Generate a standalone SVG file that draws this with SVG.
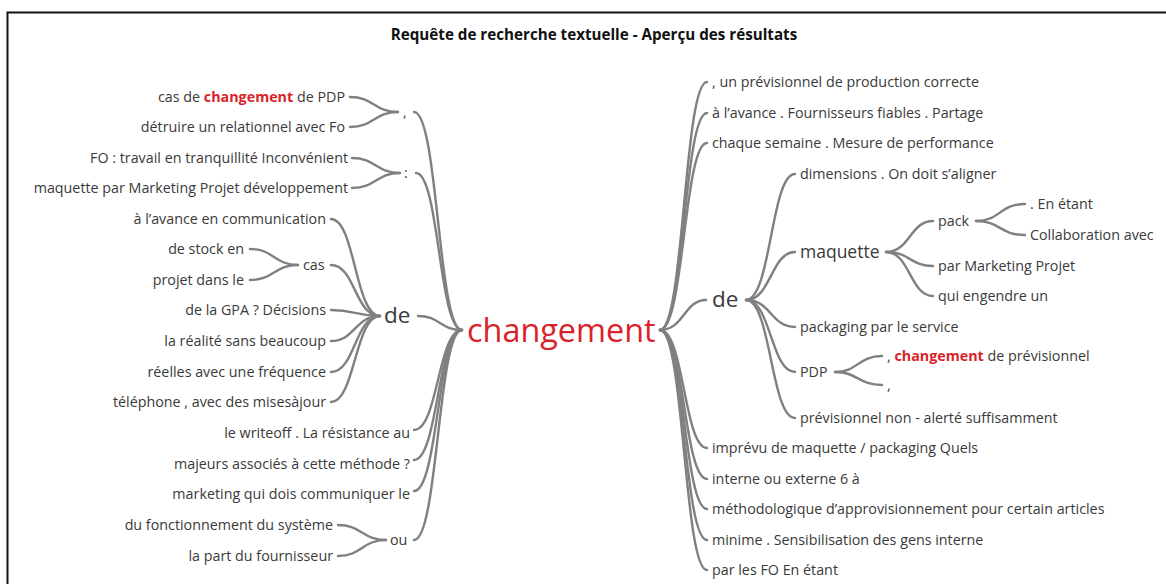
<svg xmlns="http://www.w3.org/2000/svg" width="1166" height="584" viewBox="0 0 1166 584">
<style>
text{font-family:"Open Sans","Noto Sans","DejaVu Sans",sans-serif;fill:#3a3a3a;font-size:14.3px}
.e{text-anchor:end}
.r{fill:#d9232a;font-weight:bold}
.t{font-weight:bold;fill:#111;text-anchor:middle;font-size:15.2px}
.root{fill:#d9232a;font-size:32.4px}
.big{font-size:22.5px}
.mid{font-size:17.5px}
.c path{fill:none;stroke:#808080;stroke-width:2.4;stroke-linecap:round}
</style>
<rect width="1166" height="584" fill="#fff"/>
<path d="M7.5,584 V12.5 H1166" fill="none" stroke="#111" stroke-width="2"/>
<text id="title" class="t" x="594" y="40">Requête de recherche textuelle - Aperçu des résultats</text>
<g id="connectors" class="c">
<path d="M414,112 C438,112 438,330 462,330"/>
<path d="M416,173 C439,173 439,330 462,330"/>
<path d="M418,316 C440,316 440,330 462,330"/>
<path d="M414,430 C438,430 438,330 462,330"/>
<path d="M414,460 C438,460 438,330 462,330"/>
<path d="M414,491 C438,491 438,330 462,330"/>
<path d="M414,540 C438,540 438,330 462,330"/>
<path d="M350,97 C374,97 374,112 398,112"/>
<path d="M350,127 C374,127 374,112 398,112"/>
<path d="M352,158 C376,158 376,173 400,173"/>
<path d="M352,188 C376,188 376,173 400,173"/>
<path d="M331,219 C355,219 355,316 380,316"/>
<path d="M331,265 C355,265 355,316 380,316"/>
<path d="M331,310 C355,310 355,316 380,316"/>
<path d="M331,341 C355,341 355,316 380,316"/>
<path d="M331,372 C355,372 355,316 380,316"/>
<path d="M331,402 C355,402 355,316 380,316"/>
<path d="M250,249 C274,249 274,265 298,265"/>
<path d="M250,280 C274,280 274,265 298,265"/>
<path d="M338,525 C362,525 362,540 386,540"/>
<path d="M338,556 C362,556 362,540 386,540"/>
<path d="M660,330 C684,330 684,82 707,82"/>
<path d="M660,330 C684,330 684,113 707,113"/>
<path d="M660,330 C684,330 684,143 707,143"/>
<path d="M660,330 C684,330 684,300 706,300"/>
<path d="M660,330 C684,330 684,448 707,448"/>
<path d="M660,330 C684,330 684,479 707,479"/>
<path d="M660,330 C684,330 684,509 707,509"/>
<path d="M660,330 C684,330 684,540 707,540"/>
<path d="M660,330 C684,330 684,570 707,570"/>
<path d="M746,300 C771,300 771,174 795,174"/>
<path d="M746,300 C771,300 771,252 795,252"/>
<path d="M746,300 C771,300 771,327 795,327"/>
<path d="M746,300 C771,300 771,372 795,372"/>
<path d="M746,300 C771,300 771,418 795,418"/>
<path d="M886,252 C910,252 910,221 933,221"/>
<path d="M886,252 C910,252 910,266 933,266"/>
<path d="M886,252 C910,252 910,296 933,296"/>
<path d="M976,221 C1000,221 1000,204 1025,204"/>
<path d="M976,221 C1000,221 1000,235 1025,235"/>
<path d="M835,372 C858,372 858,356 882,356"/>
<path d="M835,372 C858,372 858,385 882,385"/>
</g>
<g id="root"><text class="root" x="467" y="342">changement</text></g>
<g id="l-comma"><text x="403" y="117">,</text></g>
<g id="l1"><text class="e" x="345" y="102">cas de <tspan class="r">changement</tspan> de PDP</text></g>
<g id="l2"><text class="e" x="345" y="132">détruire un relationnel avec Fo</text></g>
<g id="l-colon"><text x="404" y="178">:</text></g>
<g id="l3"><text class="e" x="348" y="163">FO : travail en tranquillité Inconvénient</text></g>
<g id="l4"><text class="e" x="348" y="193">maquette par Marketing Projet développement</text></g>
<g id="l-de"><text class="big" x="384" y="323">de</text></g>
<g id="l5"><text class="e" x="326" y="224">à l’avance en communication</text></g>
<g id="l-cas"><text x="303" y="270">cas</text></g>
<g id="l6"><text class="e" x="244" y="254">de stock en</text></g>
<g id="l7"><text class="e" x="244" y="285">projet dans le</text></g>
<g id="l8"><text class="e" x="326" y="315">de la GPA ? Décisions</text></g>
<g id="l9"><text class="e" x="326" y="346">la réalité sans beaucoup</text></g>
<g id="l10"><text class="e" x="326" y="377">réelles avec une fréquence</text></g>
<g id="l11"><text class="e" x="326" y="407">téléphone , avec des misesàjour</text></g>
<g id="l12"><text class="e" x="410" y="438">le writeoff . La résistance au</text></g>
<g id="l13"><text class="e" x="410" y="469">majeurs associés à cette méthode ?</text></g>
<g id="l14"><text class="e" x="410" y="499">marketing qui dois communiquer le</text></g>
<g id="l-ou"><text x="390" y="545">ou</text></g>
<g id="l15"><text class="e" x="333" y="530">du fonctionnement du système</text></g>
<g id="l16"><text class="e" x="333" y="561">la part du fournisseur</text></g>
<g id="r1"><text x="712" y="87">, un prévisionnel de production correcte</text></g>
<g id="r2"><text x="712" y="118">à l’avance . Fournisseurs fiables . Partage</text></g>
<g id="r3"><text x="712" y="148">chaque semaine . Mesure de performance</text></g>
<g id="r-de"><text class="big" x="712" y="307">de</text></g>
<g id="r4"><text x="800" y="179">dimensions . On doit s’aligner</text></g>
<g id="r-maquette"><text class="mid" x="800" y="258">maquette</text></g>
<g id="r-pack"><text x="938" y="226">pack</text></g>
<g id="r5"><text x="1030" y="209">. En étant</text></g>
<g id="r6"><text x="1030" y="240">Collaboration avec</text></g>
<g id="r7"><text x="938" y="271">par Marketing Projet</text></g>
<g id="r8"><text x="938" y="301">qui engendre un</text></g>
<g id="r9"><text x="800" y="332">packaging par le service</text></g>
<g id="r-pdp"><text x="800" y="377">PDP</text></g>
<g id="r10"><text x="887" y="361">, <tspan class="r">changement</tspan> de prévisionnel</text></g>
<g id="r11"><text x="887" y="390">,</text></g>
<g id="r12"><text x="800" y="423">prévisionnel non - alerté suffisamment</text></g>
<g id="r13"><text x="712" y="453">imprévu de maquette / packaging Quels</text></g>
<g id="r14"><text x="712" y="484">interne ou externe 6 à</text></g>
<g id="r15"><text x="712" y="514">méthodologique d’approvisionnement pour certain articles</text></g>
<g id="r16"><text x="712" y="545">minime . Sensibilisation des gens interne</text></g>
<g id="r17"><text x="712" y="575">par les FO En étant</text></g>
</svg>
